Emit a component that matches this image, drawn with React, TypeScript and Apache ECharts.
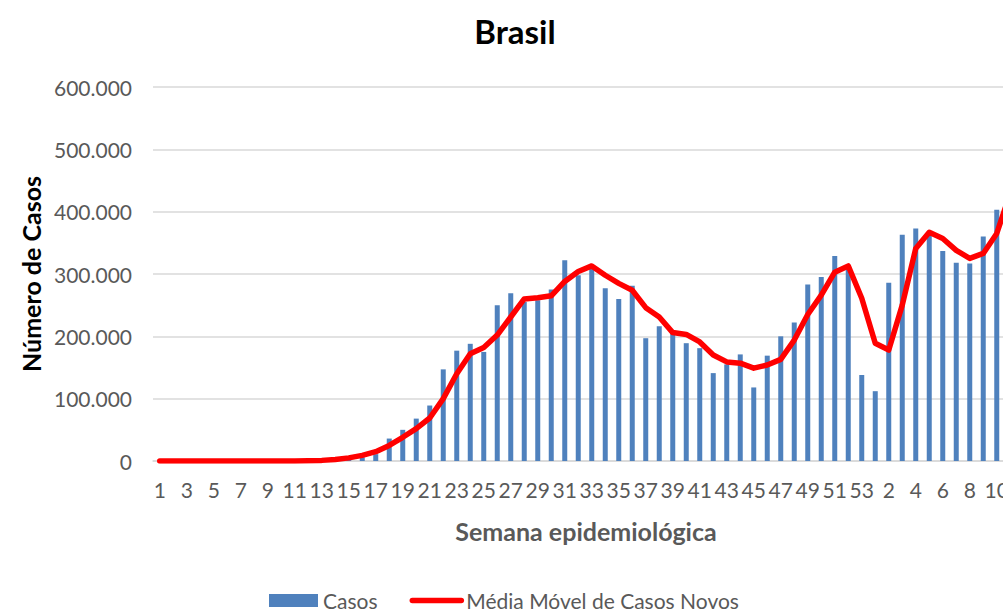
import React, { useEffect, useRef } from "react";
import * as echarts from "echarts";

const weeks2020: string[] = Array.from({ length: 53 }, (_, i) => String(i + 1));
const weeks2021: string[] = ["1", "2", "3", "4", "5", "6", "7", "8", "9", "10", "11"];
const categories: string[] = [...weeks2020, ...weeks2021];

const casos: number[] = [
  0, 0, 0, 0, 0, 0, 0, 0, 1, 30, 200, 500, 1200, 2500, 4000, 6000, 11000, 36000, 50000, 68000,
  89000, 147000, 177000, 188000, 175000, 250000, 269000, 255000, 258000, 275000, 322000, 298000, 309000, 277000, 260000, 281000,
  197000, 216000, 204000, 189000, 181000, 141000, 155000, 171000, 118000, 169000, 200000, 222000, 283000, 295000, 329000, 311000,
  138000,
  112000, 286000, 363000, 373000, 362000, 337000, 318000, 317000, 360000, 403000, 490000,
];

const mediaMovel: number[] = [
  0, 0, 0, 0, 0, 0, 0, 0, 0, 0, 0, 300, 1000, 2500, 5000, 9000, 15000, 25000, 38000, 52000,
  69000, 100000, 140000, 172000, 182000, 202000, 231000, 260000, 262000, 265000, 288000, 304000, 313000, 298000, 285000, 274000,
  246000, 231000, 206000, 203000, 191000, 170000, 159000, 157000, 149000, 154000, 163000, 194000, 235000, 266000, 303000, 313000,
  261000,
  189000, 178000, 250000, 341000, 367000, 357000, 338000, 325000, 333000, 365000, 430000,
];

const yTicks: number[] = [0, 100000, 200000, 300000, 400000, 500000, 600000];

const FONT = "Lato, 'Open Sans', sans-serif";

export default function App() {
  const ref = useRef<HTMLDivElement>(null);
  useEffect(() => {
    if (!ref.current) return;
    const chart = echarts.init(ref.current, undefined, { renderer: "svg" });
    chart.setOption({
      animation: false,
      backgroundColor: "#ffffff",
      textStyle: { fontFamily: FONT },
      title: {
        text: "Brasil",
        left: "center",
        top: 9,
        textStyle: { fontFamily: FONT, fontSize: 33, fontWeight: "bold", color: "#000000" },
      },
      legend: {
        left: 264,
        top: 585,
        itemWidth: 49,
        itemHeight: 13,
        itemGap: 32,
        textStyle: { fontFamily: FONT, fontSize: 21, color: "#595959" },
        data: [
          { name: "Casos", icon: "rect" },
          {
            name: "Média Móvel de Casos Novos",
            itemStyle: { opacity: 0 },
            lineStyle: { width: 5.5, color: "#FF0000", cap: "round" },
          },
        ],
      },
      grid: { left: 153, right: 13, top: 87, bottom: 152, containLabel: false },
      xAxis: {
        type: "category",
        data: categories,
        boundaryGap: true,
        axisLine: { show: true, lineStyle: { color: "#D9D9D9", width: 1.5 } },
        axisTick: { show: false },
        axisLabel: {
          interval: 1,
          margin: 18,
          fontFamily: FONT,
          fontSize: 21,
          color: "#595959",
        },
      },
      yAxis: {
        type: "value",
        min: yTicks[0],
        max: yTicks[yTicks.length - 1],
        interval: 100000,
        axisLine: { show: false },
        axisTick: { show: false },
        splitLine: { lineStyle: { color: "#D9D9D9", width: 1.5 } },
        axisLabel: {
          margin: 21,
          fontFamily: FONT,
          fontSize: 21,
          color: "#595959",
          formatter: (v: number) => (v === 0 ? "0" : v.toLocaleString("de-DE")),
        },
      },
      graphic: [
        {
          type: "text",
          x: 31,
          y: 274,
          rotation: Math.PI / 2,
          style: {
            text: "Número de Casos",
            fontFamily: FONT,
            fontSize: 25,
            fontWeight: "bold",
            fill: "#000000",
            align: "center",
            verticalAlign: "middle",
          },
        },
        {
          type: "text",
          x: 586,
          y: 531,
          style: {
            text: "Semana epidemiológica",
            fontFamily: FONT,
            fontSize: 25,
            fontWeight: "bold",
            fill: "#595959",
            align: "center",
            verticalAlign: "middle",
          },
        },
      ],
      series: [
        {
          name: "Casos",
          type: "bar",
          data: casos,
          barWidth: 5,
          itemStyle: { color: "#4F81BD" },
        },
        {
          name: "Média Móvel de Casos Novos",
          type: "line",
          data: mediaMovel,
          showSymbol: false,
          symbol: "none",
          smooth: false,
          lineStyle: { color: "#FF0000", width: 5.5, cap: "round", join: "round" },
          itemStyle: { color: "#FF0000" },
        },
      ],
    });
    return () => chart.dispose();
  }, []);
  return (
    <div style={{ position: "fixed", left: 0, top: 0, width: 1003, height: 613, overflow: "hidden", background: "#fff" }}>
      <div ref={ref} style={{ width: 1030, height: 613 }} />
    </div>
  );
}
